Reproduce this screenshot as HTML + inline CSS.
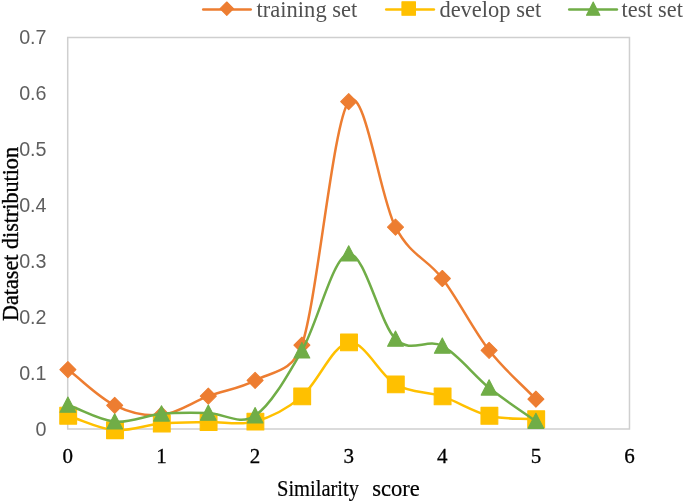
<!DOCTYPE html>
<html lang="en"><head><meta charset="utf-8"><title>Dataset distribution by similarity score</title>
<style>
html,body{margin:0;padding:0;background:#fff;}
body{width:685px;height:503px;overflow:hidden;}
svg{display:block;filter:blur(0.45px);}
.serif{font-family:"Liberation Serif","DejaVu Serif",serif;}
.sans{font-family:"Liberation Sans","DejaVu Sans",sans-serif;}
</style></head><body>
<svg width="685" height="503" viewBox="0 0 685 503">
<rect x="0" y="0" width="685" height="503" fill="#fff"/>
<rect x="67.7" y="37.5" width="561.78" height="391.5" fill="none" stroke="#CFCFCF" stroke-width="1.5"/>
<g class="sans" font-size="19.7" fill="#5e5e5e" text-anchor="end">
<text x="46.5" y="436.2">0</text>
<text x="46.5" y="380.2">0.1</text>
<text x="46.5" y="324.2">0.2</text>
<text x="46.5" y="268.2">0.3</text>
<text x="46.5" y="212.2">0.4</text>
<text x="46.5" y="156.2">0.5</text>
<text x="46.5" y="100.2">0.6</text>
<text x="46.5" y="44.2">0.7</text>
</g>
<g class="serif" font-size="21" fill="#000" stroke="#000" stroke-width="0.3" text-anchor="middle">
<text x="67.8" y="462.8">0</text>
<text x="161.4" y="462.8">1</text>
<text x="255.1" y="462.8">2</text>
<text x="348.7" y="462.8">3</text>
<text x="442.3" y="462.8">4</text>
<text x="536.0" y="462.8">5</text>
<text x="629.6" y="462.8">6</text>
</g>
<text class="serif" font-size="23" fill="#000" stroke="#000" stroke-width="0.2" y="495.6"><tspan x="277" textLength="82" lengthAdjust="spacingAndGlyphs">Similarity</tspan> <tspan x="372.2" textLength="47.6" lengthAdjust="spacingAndGlyphs">score</tspan></text>
<text class="serif" font-size="23" fill="#000" stroke="#000" stroke-width="0.35" transform="translate(17.5 321) rotate(-90)" textLength="174" lengthAdjust="spacingAndGlyphs">Dataset distribution</text>
<path d="M67.90 369.60 C83.50 381.50 99.10 397.73 114.70 405.30 C130.30 412.87 145.90 416.53 161.50 415.00 C177.10 413.47 192.70 401.87 208.30 396.10 C223.90 390.33 239.50 388.88 255.10 380.40 C270.70 371.92 292.58 372.96 301.90 345.20 C317.50 298.75 333.10 121.37 348.70 101.70 C364.30 82.03 379.90 197.73 395.50 227.20 C411.10 256.67 426.70 257.98 442.30 278.50 C457.90 299.02 473.50 330.18 489.10 350.30 C504.70 370.42 520.30 382.90 535.90 399.20" fill="none" stroke="#ED7D31" stroke-width="2.5" stroke-linecap="round" stroke-linejoin="round"/>
<g fill="#ED7D31" stroke="#ED7D31" stroke-width="1.1" stroke-linejoin="round"><path d="M67.90 361.60L75.90 369.60L67.90 377.60L59.90 369.60Z"/><path d="M114.70 397.30L122.70 405.30L114.70 413.30L106.70 405.30Z"/><path d="M161.50 407.00L169.50 415.00L161.50 423.00L153.50 415.00Z"/><path d="M208.30 388.10L216.30 396.10L208.30 404.10L200.30 396.10Z"/><path d="M255.10 372.40L263.10 380.40L255.10 388.40L247.10 380.40Z"/><path d="M301.90 337.20L309.90 345.20L301.90 353.20L293.90 345.20Z"/><path d="M348.70 93.70L356.70 101.70L348.70 109.70L340.70 101.70Z"/><path d="M395.50 219.20L403.50 227.20L395.50 235.20L387.50 227.20Z"/><path d="M442.30 270.50L450.30 278.50L442.30 286.50L434.30 278.50Z"/><path d="M489.10 342.30L497.10 350.30L489.10 358.30L481.10 350.30Z"/><path d="M535.90 391.20L543.90 399.20L535.90 407.20L527.90 399.20Z"/></g>
<path d="M67.90 415.70 C83.50 420.53 99.10 428.90 114.70 430.20 C130.30 431.50 145.90 424.87 161.50 423.50 C177.10 422.13 192.70 422.32 208.30 422.00 C223.90 421.68 239.50 425.87 255.10 421.60 C270.70 417.33 286.30 409.60 301.90 396.40 C317.50 383.20 333.10 344.40 348.70 342.40 C364.30 340.40 379.90 375.40 395.50 384.40 C411.10 393.40 426.70 391.17 442.30 396.40 C457.90 401.63 473.50 411.98 489.10 415.80 C504.70 419.62 520.30 418.13 535.90 419.30" fill="none" stroke="#FFC000" stroke-width="2.5" stroke-linecap="round" stroke-linejoin="round"/>
<g fill="#FFC000" stroke="#FFC000" stroke-width="1.1" stroke-linejoin="round"><rect x="59.80" y="407.30" width="16.80" height="16.80"/><rect x="106.60" y="421.80" width="16.80" height="16.80"/><rect x="153.40" y="415.10" width="16.80" height="16.80"/><rect x="200.20" y="413.60" width="16.80" height="16.80"/><rect x="247.00" y="413.20" width="16.80" height="16.80"/><rect x="293.80" y="388.00" width="16.80" height="16.80"/><rect x="340.60" y="334.00" width="16.80" height="16.80"/><rect x="387.40" y="376.00" width="16.80" height="16.80"/><rect x="434.20" y="388.00" width="16.80" height="16.80"/><rect x="481.00" y="407.40" width="16.80" height="16.80"/><rect x="527.80" y="410.90" width="16.80" height="16.80"/></g>
<path d="M67.90 405.00 C83.50 410.57 99.10 420.23 114.70 421.70 C130.30 423.17 145.90 415.25 161.50 413.80 C177.10 412.35 192.70 412.70 208.30 413.00 C223.90 413.30 239.50 426.00 255.10 415.60 C270.70 405.20 286.30 377.58 301.90 350.60 C317.50 323.62 333.10 255.63 348.70 253.70 C364.30 251.77 379.90 323.63 395.50 339.00 C411.10 354.37 426.70 337.77 442.30 345.90 C457.90 354.03 473.50 375.25 489.10 387.80 C504.70 400.35 520.30 410.07 535.90 421.20" fill="none" stroke="#70AD47" stroke-width="2.5" stroke-linecap="round" stroke-linejoin="round"/>
<g fill="#70AD47" stroke="#70AD47" stroke-width="1.1" stroke-linejoin="round"><path d="M67.90 397.00L75.80 412.30L60.00 412.30Z"/><path d="M114.70 413.70L122.60 429.00L106.80 429.00Z"/><path d="M161.50 405.80L169.40 421.10L153.60 421.10Z"/><path d="M208.30 405.00L216.20 420.30L200.40 420.30Z"/><path d="M255.10 407.60L263.00 422.90L247.20 422.90Z"/><path d="M301.90 342.60L309.80 357.90L294.00 357.90Z"/><path d="M348.70 245.70L356.60 261.00L340.80 261.00Z"/><path d="M395.50 331.00L403.40 346.30L387.60 346.30Z"/><path d="M442.30 337.90L450.20 353.20L434.40 353.20Z"/><path d="M489.10 379.80L497.00 395.10L481.20 395.10Z"/><path d="M535.90 413.20L543.80 428.50L528.00 428.50Z"/></g>
<g stroke-width="2.5" stroke-linecap="round">
<line x1="203.2" y1="9.6" x2="250.7" y2="9.6" stroke="#ED7D31"/>
<line x1="386.2" y1="9.6" x2="433.9" y2="9.6" stroke="#FFC000"/>
<line x1="569.2" y1="9.6" x2="616.9" y2="9.6" stroke="#70AD47"/>
</g>
<g fill="#ED7D31" stroke="#ED7D31" stroke-width="1.1" stroke-linejoin="round"><path d="M226.80 2.00L233.50 8.70L226.80 15.40L220.10 8.70Z"/></g>
<g fill="#FFC000" stroke="#FFC000" stroke-width="1.1" stroke-linejoin="round"><rect x="401.95" y="1.80" width="13.50" height="13.50"/></g>
<g fill="#70AD47" stroke="#70AD47" stroke-width="1.1" stroke-linejoin="round"><path d="M593.20 2.00L599.90 15.20L586.50 15.20Z"/></g>
<g class="serif" font-size="23" fill="#505050">
<text x="256.6" y="16.6" textLength="100.7" lengthAdjust="spacingAndGlyphs">training set</text>
<text x="439.4" y="16.6" textLength="101.8" lengthAdjust="spacingAndGlyphs">develop set</text>
<text x="621.6" y="16.6" textLength="61.3" lengthAdjust="spacingAndGlyphs">test set</text>
</g>
</svg></body></html>
